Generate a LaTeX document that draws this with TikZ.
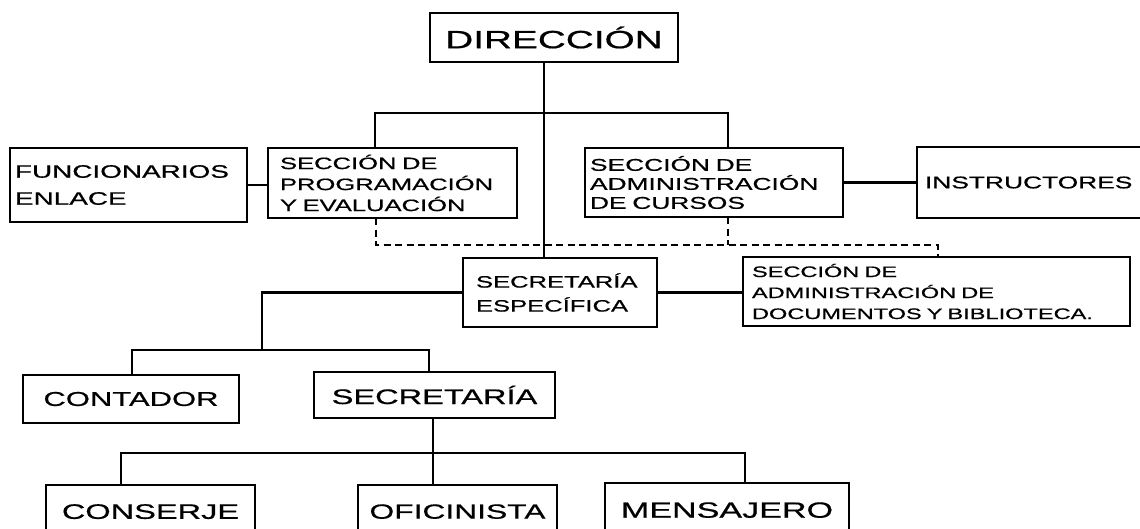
\documentclass[tikz,border=0pt]{standalone}
\usepackage{fontspec}
\setmainfont{Liberation Sans}[FakeStretch=1.55,FakeBold=0.6]
\begin{document}
\begin{tikzpicture}[x=1pt,y=-1pt,
  box/.style={draw=black, line width=2.5pt, rectangle, outer sep=0pt, inner ysep=0pt},
  link/.style={draw=black, line width=2.4pt},
  dashd/.style={draw=black, line width=2.4pt, dash pattern=on 7pt off 4.5pt}]
\useasboundingbox[fill=white] (0,0) rectangle (1140,528);
\newcommand\bx[9]{%
  \pgfmathsetmacro\bxw{#4-#2}\pgfmathsetmacro\bxh{#5-#3}%
  \pgfmathsetmacro\bxtw{#4-#2-2*#6}%
  \pgfmathsetmacro\bxcx{(#2+#4)/2}\pgfmathsetmacro\bxcy{(#3+#5)/2}%
  \node[box, minimum width=\bxw pt, minimum height=\bxh pt, inner xsep=#6pt,
        text width=\bxtw pt, align=#7, font={\hyphenpenalty=10000 #8}] (#1) at (\bxcx,\bxcy) {#9};}
% boxes
\bx{dir}{430}{13}{678}{62}{6}{center}{\fontsize{25}{28}\selectfont}{DIRECCIÓN}
\bx{fun}{10}{148}{247}{222}{5}{left}{\fontsize{18}{27}\selectfont}{FUNCIONARIOS\\ENLACE}
\bx{prog}{268}{148}{517}{218}{12}{left}{\fontsize{16.5}{21}\selectfont}{SECCIÓN DE\\PROGRAMACIÓN\\Y EVALUACIÓN}
\bx{cur}{585}{148}{843}{217}{5}{left}{\fontsize{17}{19}\selectfont}{SECCIÓN DE\\ADMINISTRACIÓN\\DE CURSOS}
\bx{ins}{917}{147}{1160}{218}{8}{left}{\fontsize{17}{20}\selectfont}{INSTRUCTORES}
\bx{sesp}{463}{258}{657}{327}{13}{left}{\fontsize{16.5}{24}\selectfont}{SECRETARÍA\\ESPECÍFICA}
\bx{docs}{743}{257}{1130}{326}{9}{left}{\fontsize{15.2}{21}\selectfont}{SECCIÓN DE\\ADMINISTRACIÓN DE\\DOCUMENTOS Y BIBLIOTECA.}
\bx{cont}{23}{375}{239}{423}{5}{center}{\fontsize{20}{24}\selectfont}{CONTADOR}
\bx{sec}{314}{372}{555}{418}{5}{center}{\fontsize{21}{24}\selectfont}{SECRETARÍA}
\bx{cons}{46}{485}{255}{545}{5}{center}{\fontsize{21}{24}\selectfont}{\raisebox{7pt}{CONSERJE}}
\bx{ofi}{358}{485}{557}{545}{5}{center}{\fontsize{20.5}{24}\selectfont}{\raisebox{7pt}{OFICINISTA}}
\bx{men}{605}{483}{849}{545}{5}{center}{\fontsize{22}{24}\selectfont}{\raisebox{8pt}{MENSAJERO}}
% junction coordinates
\coordinate (tk) at (544,113);
\coordinate (hl) at (375,113);
\coordinate (hr) at (728,113);
\coordinate (dl) at (376,245);
\coordinate (dr) at (938,245);
\coordinate (c0) at (262,350);
\coordinate (c1) at (132,350);
\coordinate (c2) at (429,350);
\coordinate (b0) at (433,453);
\coordinate (b1) at (121,453);
\coordinate (b2) at (745,453);
% solid connectors
\draw[link] (dir.south -| tk) -- (sesp.north -| tk);
\draw[link] (prog.north -| hl) -- (hl) -- (hr) -- (cur.north -| hr);
\draw[link] (fun.east) -- (fun.east -| prog.west);
\draw[link] (cur.east) -- (cur.east -| ins.west);
\draw[link] (sesp.east) -- (sesp.east -| docs.west);
\draw[link] (sesp.west) -| (c0);
\draw[link] (cont.north -| c1) -- (c1) -- (c2) -- (sec.north -| c2);
\draw[link] (sec.south -| b0) -- (ofi.north -| b0);
\draw[link] (cons.north -| b1) -- (b1) -- (b2) -- (men.north -| b2);
% dashed connectors
\draw[dashd] (prog.south -| dl) -- (dl) -- (dr) -- (docs.north -| dr);
\draw[dashd] (cur.south -| hr) -- (hr |- dl);
\end{tikzpicture}
\end{document}
